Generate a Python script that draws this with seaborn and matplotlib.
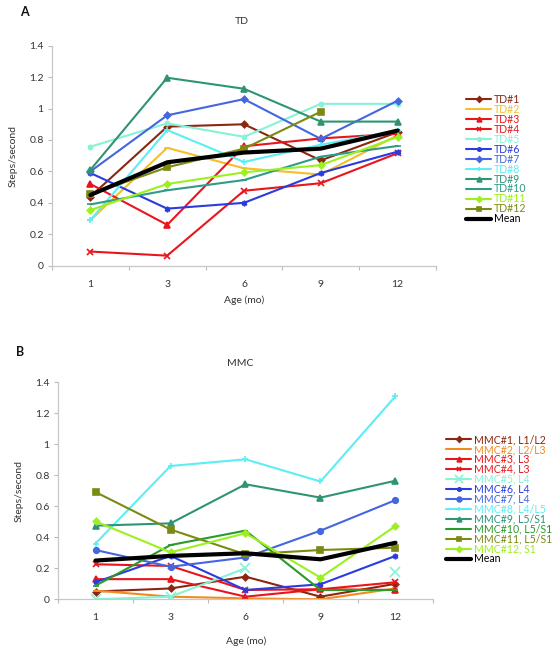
import numpy as np
import pandas as pd
import matplotlib
matplotlib.use('Agg')
import matplotlib.pyplot as plt
import seaborn as sns
from matplotlib.ticker import FixedLocator, FuncFormatter

# --- data ---
ages = ['1', '3', '6', '9', '12']

td_names = ['TD#1', 'TD#2', 'TD#3', 'TD#4', 'TD#5', 'TD#6', 'TD#7', 'TD#8',
            'TD#9', 'TD#10', 'TD#11', 'TD#12', 'Mean']
td_values = [
    [0.44, 0.885, 0.90, 0.67, 0.85],
    [0.29, 0.75, 0.62, 0.58, 0.83],
    [0.52, 0.26, 0.76, 0.81, 0.84],
    [0.09, 0.064, 0.477, 0.525, 0.716],
    [0.757, 0.906, 0.82, 1.03, 1.03],
    [0.59, 0.363, 0.40, 0.59, 0.726],
    [0.60, 0.957, 1.06, 0.807, 1.05],
    [0.29, 0.863, 0.66, 0.77, 0.86],
    [0.61, 1.196, 1.126, 0.917, 0.917],
    [0.39, 0.48, 0.545, 0.694, 0.762],
    [0.354, 0.52, 0.594, 0.64, 0.82],
    [0.454, 0.626, 0.745, 0.98, np.nan],
    [0.45, 0.658, 0.72, 0.745, 0.86],
]

mmc_names = ['MMC#1, L1/L2', 'MMC#2, L2/L3', 'MMC#3, L3', 'MMC#4, L3',
             'MMC#5, L4', 'MMC#6, L4', 'MMC#7, L4', 'MMC#8, L4/L5',
             'MMC#9, L5/S1', 'MMC#10, L5/S1', 'MMC#11, L5/S1', 'MMC#12, S1', 'Mean']
mmc_values = [
    [0.05, 0.07, 0.146, 0.017, 0.10],
    [0.056, 0.017, 0.006, 0.0, 0.07],
    [0.13, 0.13, 0.017, 0.065, 0.06],
    [0.226, 0.215, 0.06, 0.065, 0.11],
    [0.0, 0.017, 0.2, np.nan, 0.178],
    [0.11, 0.28, 0.06, 0.097, 0.28],
    [0.318, 0.21, 0.27, 0.443, 0.64],
    [0.36, 0.86, 0.903, 0.76, 1.31],
    [0.475, 0.49, 0.742, 0.656, 0.765],
    [0.088, 0.35, 0.443, 0.06, 0.06],
    [0.692, 0.45, 0.29, 0.318, 0.333],
    [0.503, 0.303, 0.426, 0.14, 0.473],
    [0.25, 0.28, 0.297, 0.258, 0.365],
]

# --- styles ---
asterisk = (6, 2, 0)
td_colors = ['#8b2610', '#f4bf2a', '#e8161c', '#e8161c', '#86f2d6', '#2a3ce0',
             '#4466e0', '#5ceef4', '#2e9474', '#2e9c86', '#9cf01e', '#7c8a12', '#000000']
td_markers = ['D', '_', '^', 'x', asterisk, asterisk, 'D', '+', '^', '_', 'D', 's', None]
mmc_colors = ['#8b2610', '#f08c1e', '#e8161c', '#e8161c', '#86f2d6', '#2a3ce0',
              '#4466e0', '#5ceef4', '#2e9474', '#2a9a2a', '#7c8a12', '#9cf01e', '#000000']
mmc_markers = ['D', '_', '^', 'x', 'x', asterisk, 'o', '+', '^', '_', 's', 'D', None]

sns.set_theme(style='white')
plt.rcParams['font.family'] = ['Lato', 'DejaVu Sans']

W, H = 560, 652
fig = plt.figure(figsize=(W / 100, H / 100), dpi=100)
gray = '#333333'


def draw_panel(ax, names, values, colors, markers):
    pos = np.arange(len(ages))
    for name, vals, c, m in zip(names, values, colors, markers):
        df = pd.DataFrame({'x': pos, 'y': vals})
        # split at gaps so missing points are not bridged
        ok = df['y'].notna()
        seg_id = (~ok).cumsum()
        first = True
        for _, seg in df[ok].groupby(seg_id[ok]):
            is_mean = name == 'Mean'
            ms = 4
            if m == 'D':
                ms = 3.3
            if m == 'x' and name.startswith('MMC#5'):
                ms = 7
            sns.lineplot(data=seg, x='x', y='y', ax=ax, color=c,
                         marker=m if m else '', markersize=ms,
                         markeredgecolor=c, markeredgewidth=1.2,
                         linewidth=3 if is_mean else 1.5,
                         label=name if first else '_nolegend_')
            first = False
    ax.set_xlim(-0.5, len(ages) - 0.5)
    ax.set_ylim(0, 1.4)
    ax.set_yticks(np.arange(0, 1.41, 0.2))
    ax.yaxis.set_major_formatter(FuncFormatter(lambda v, p: '%g' % round(v, 1)))
    ax.xaxis.set_major_locator(FixedLocator(np.arange(-0.5, len(ages), 1.0)))
    ax.xaxis.set_major_formatter(FuncFormatter(lambda v, p: ''))
    ax.xaxis.set_minor_locator(FixedLocator(pos))
    ax.set_xticklabels(ages, minor=True)
    ax.tick_params(axis='x', which='major', length=3, width=0.8, color='#bbbbbb', direction='out', bottom=True)
    ax.tick_params(axis='x', which='minor', length=0, pad=10, labelsize=7.5, labelcolor=gray)
    ax.tick_params(axis='y', length=3, width=0.8, color='#bbbbbb', direction='out', left=True,
                   pad=3, labelsize=7.5, labelcolor=gray)
    for s in ['top', 'right']:
        ax.spines[s].set_visible(False)
    for s in ['left', 'bottom']:
        ax.spines[s].set_color('#c8c8c8')
        ax.spines[s].set_linewidth(0.9)
    ax.set_xlabel('')
    ax.set_ylabel('Steps/second', fontsize=7.5, color=gray, labelpad=8)


def add_legend(ax, colors, x, y):
    leg = ax.legend(loc='upper left', bbox_to_anchor=(x / W, 1 - y / H),
                    bbox_transform=fig.transFigure, frameon=False,
                    fontsize=7.6, handlelength=2.4, handletextpad=0.25,
                    labelspacing=-0.1, borderpad=0, borderaxespad=0,
                    markerscale=0.85)
    for t, c in zip(leg.get_texts(), colors):
        t.set_color(c)
    return leg


# panel A
axA = fig.add_axes([52 / W, 1 - 265.7 / H, (436 - 52) / W, 220 / H])
draw_panel(axA, td_names, td_values, td_colors, td_markers)
add_legend(axA, td_colors, 466, 94)
fig.text(20 / W, 1 - 12 / H, 'A', fontsize=9, fontweight='bold', color='#111111', va='center')
fig.text(242 / W, 1 - 21 / H, 'TD', fontsize=7.5, color=gray, ha='center', va='center')
fig.text(244 / W, 1 - 300 / H, 'Age (mo)', fontsize=7.5, color=gray, ha='center', va='center')

# panel B
axB = fig.add_axes([58 / W, 1 - 599.3 / H, (433 - 58) / W, 217 / H])
draw_panel(axB, mmc_names, mmc_values, mmc_colors, mmc_markers)
add_legend(axB, mmc_colors, 446, 434)
fig.text(16 / W, 1 - 352 / H, 'B', fontsize=9, fontweight='bold', color='#111111', va='center')
fig.text(240 / W, 1 - 363 / H, 'MMC', fontsize=7.5, color=gray, ha='center', va='center')
fig.text(246 / W, 1 - 641 / H, 'Age (mo)', fontsize=7.5, color=gray, ha='center', va='center')

fig.savefig('out.png', dpi=100)
